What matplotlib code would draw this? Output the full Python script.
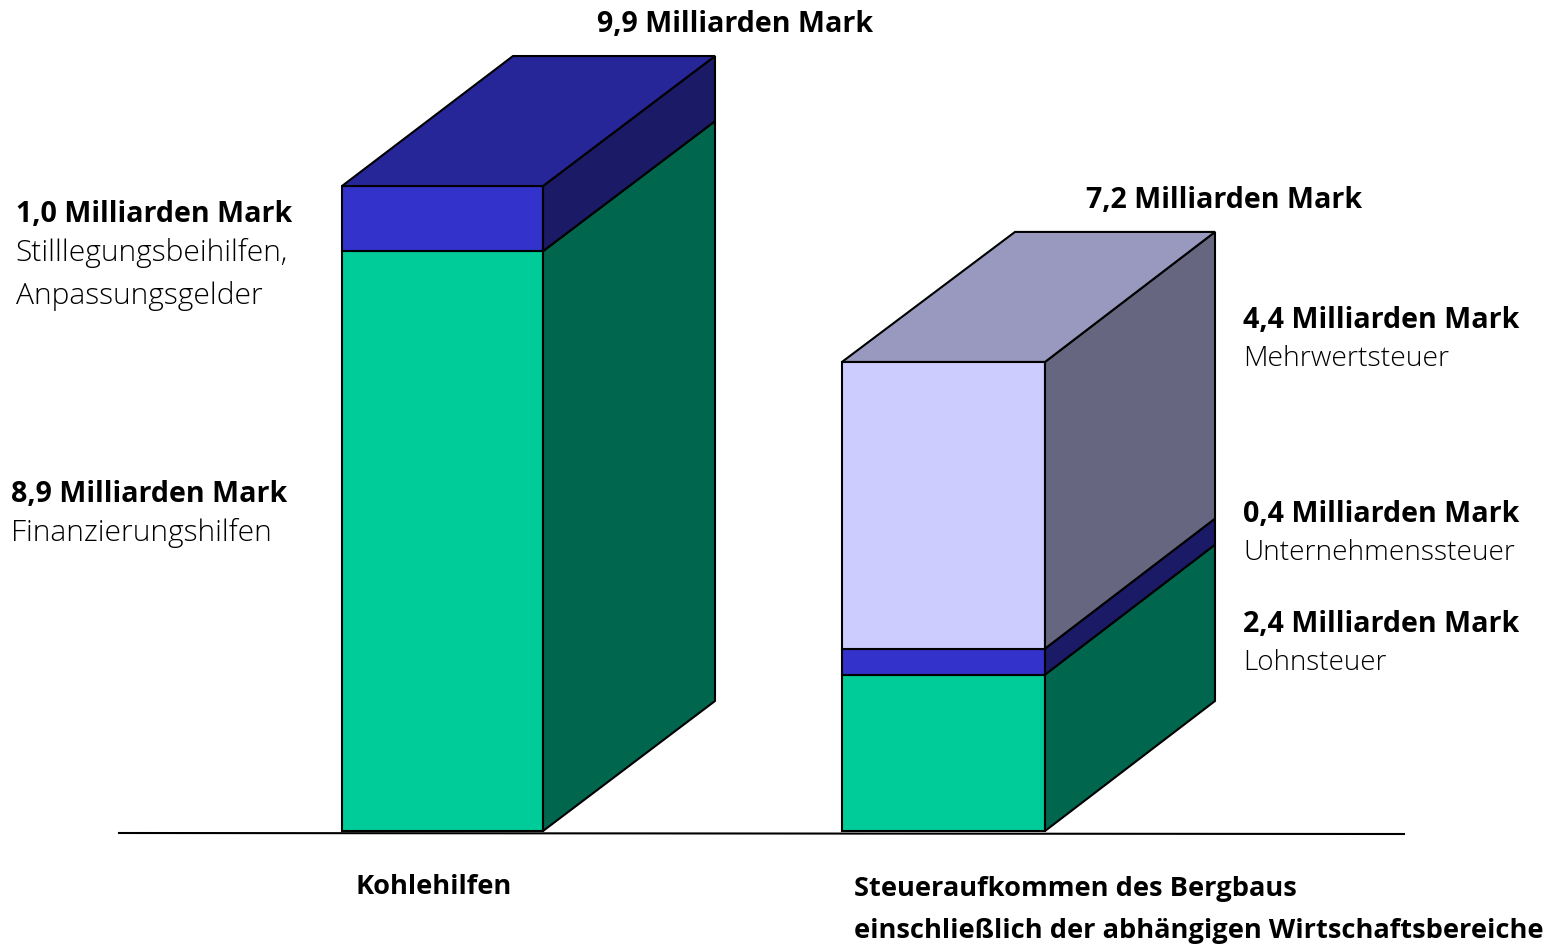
import matplotlib.pyplot as plt
from matplotlib.patches import Polygon

plt.rcParams['font.family'] = ['Open Sans', 'DejaVu Sans']

# Werte in Milliarden Mark
kohle_werte = [8.9, 1.0]
steuer_werte = [2.4, 0.4, 4.4]

kohle_front = ['#00CC99', '#3333CC']
kohle_seite = ['#00664D', '#1A1A66']
kohle_top = '#262699'
steuer_front = ['#00CC99', '#3333CC', '#CCCCFF']
steuer_seite = ['#00664D', '#1A1A66', '#666680']
steuer_top = '#9999BF'

# Layout: x in Pixeln, y in Milliarden Mark
PX = 65.15
Y0 = 831
tiefe_y = 130 / PX


def saeule(ax, x0, x1, tiefe_l, tiefe_r, werte, front, seite, top):
    unten = 0
    for w, f, s in zip(werte, front, seite):
        oben = unten + w
        ax.add_patch(Polygon([(x0, unten), (x1, unten), (x1, oben), (x0, oben)],
                             facecolor=f, edgecolor='black', lw=1.5))
        ax.add_patch(Polygon([(x1, unten), (x1 + tiefe_r, unten + tiefe_y),
                              (x1 + tiefe_r, oben + tiefe_y), (x1, oben)],
                             facecolor=s, edgecolor='black', lw=1.5))
        unten = oben
    ax.add_patch(Polygon([(x0, unten), (x1, unten), (x1 + tiefe_r, unten + tiefe_y),
                          (x0 + tiefe_l, unten + tiefe_y)],
                         facecolor=top, edgecolor='black', lw=1.5))


fig = plt.figure(figsize=(15.54, 9.48), dpi=100)
ax = fig.add_axes([0, 0, 1, 1])
ax.set_xlim(0, 1554)
ax.set_ylim((Y0 - 948) / PX, Y0 / PX)
ax.axis('off')

saeule(ax, 342, 543, 171, 172, kohle_werte, kohle_front, kohle_seite, kohle_top)
saeule(ax, 842, 1045, 173, 170, steuer_werte, steuer_front, steuer_seite, steuer_top)

# Grundlinie
ax.plot([119, 1404], [(Y0 - 833) / PX, (Y0 - 834) / PX], color='black', lw=1.5)


def txt(x, y, s, groesse, fett=False):
    fig.text(x / 1554, 1 - y / 948, s, fontsize=groesse,
             fontweight='bold' if fett else 300, va='center', ha='left', color='black')


txt(597, 24, '9,9 Milliarden Mark', 20.6, True)
txt(16, 215, '1,0 Milliarden Mark', 20.6, True)
txt(15, 253, 'Stilllegungsbeihilfen,', 21.6)
txt(16, 296, 'Anpassungsgelder', 21.6)
txt(11, 495, '8,9 Milliarden Mark', 20.6, True)
txt(11, 533, 'Finanzierungshilfen', 21.6)
txt(1086, 200, '7,2 Milliarden Mark', 20.6, True)
txt(1243, 321, '4,4 Milliarden Mark', 20.6, True)
txt(1243, 359, 'Mehrwertsteuer', 20.4)
txt(1243, 515, '0,4 Milliarden Mark', 20.6, True)
txt(1243, 553, 'Unternehmenssteuer', 20.2)
txt(1243, 625, '2,4 Milliarden Mark', 20.6, True)
txt(1243, 663, 'Lohnsteuer', 20.0)
txt(355, 887, 'Kohlehilfen', 19.6, True)
txt(854, 889, 'Steueraufkommen des Bergbaus', 19.6, True)
txt(854, 931, 'einschließlich der abhängigen Wirtschaftsbereiche', 19.6, True)

fig.savefig('out.png', dpi=100)
